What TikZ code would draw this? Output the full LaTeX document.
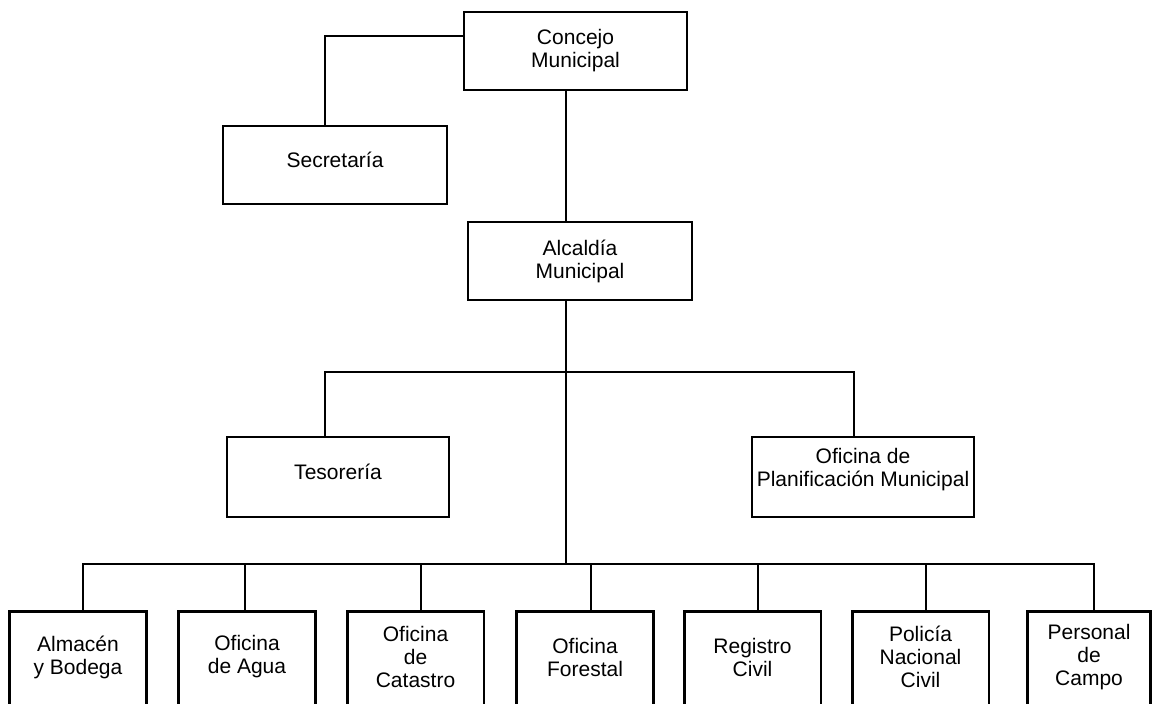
\documentclass[tikz,border=0pt]{standalone}
\usepackage{fontspec}
\setmainfont{Liberation Sans}
\begin{document}
\begin{tikzpicture}[x=0.5pt,y=-0.5pt,
  txt/.style={font=\fontsize{10.5}{11.5}\selectfont, align=center, inner sep=0pt},
  box/.style={txt, draw, line width=1.4pt, rectangle, inner sep=0pt, minimum width=111.5pt, minimum height=39pt},
  lowbox/.style={txt, rectangle, inner sep=0pt, minimum width=68pt, minimum height=45pt},
  boxline/.style={line width=1.4pt},
  conn/.style={line width=1pt}]
\useasboundingbox (0,0) rectangle (1154,704);
\clip (0,0) rectangle (1154,704);
% top levels
\node[box] (conc) at (575.5,51) {Concejo\\Municipal};
\node[box, minimum width=112pt, label={[txt,yshift=2.5pt]center:Secretaría}] (sec) at (335,165) {};
\node[box, minimum width=112pt] (alc) at (580,261) {Alcaldía\\Municipal};
\node[box, minimum width=111pt, minimum height=40pt, label={[txt,yshift=2.5pt]center:Tesorería}] (tes) at (338,477) {};
\node[box, minimum width=111pt, minimum height=40pt, label={[txt,yshift=3.5pt]center:Oficina de\\Planificación Municipal}] (pla) at (863,477) {};
% bottom row
\node[lowbox] (alm) at (78,657) {Almacén\\y Bodega};
\node[lowbox] (agu) at (247,657) {Oficina\\de Agua};
\node[lowbox] (cat) at (415.5,657) {Oficina\\de\\Catastro};
\node[lowbox] (for) at (585,657) {Oficina\\Forestal};
\node[lowbox] (reg) at (752.5,657) {Registro\\Civil};
\node[lowbox] (pol) at (920.5,657) {Policía\\Nacional\\Civil};
\node[lowbox, minimum width=61pt] (per) at (1089,657) {Personal\\de\\Campo};
\foreach \n in {alm,agu,cat,for,reg,pol,per}{
  \draw[boxline] ([yshift=-8pt]\n.south west) -- (\n.north west) -- (\n.north east) -- ([yshift=-8pt]\n.south east);
}
% connectors
\coordinate (spine) at (566,0);
\coordinate (bus1) at (566,372);
\coordinate (bus2) at (566,564);
\draw[conn] ([yshift=7.5pt]conc.west) -| ([xshift=-5pt]sec.north);
\draw[conn] (conc.south -| spine) -- (alc.north -| spine);
\draw[conn] (alc.south -| spine) -- (bus2);
\draw[conn] ([xshift=-6.5pt]tes.north) |- (bus1) -| ([xshift=-4.5pt]pla.north);
\draw[conn] ([xshift=2.5pt]alm.north) |- (bus2) -| ([xshift=2.5pt]per.north);
\draw[conn] ([xshift=-1pt]agu.north) -- ([xshift=-1pt]agu.north |- bus2);
\foreach \n in {cat,for,reg,pol}{
  \draw[conn] ([xshift=2.75pt]\n.north) -- ([xshift=2.75pt]\n.north |- bus2);
}
\end{tikzpicture}
\end{document}
